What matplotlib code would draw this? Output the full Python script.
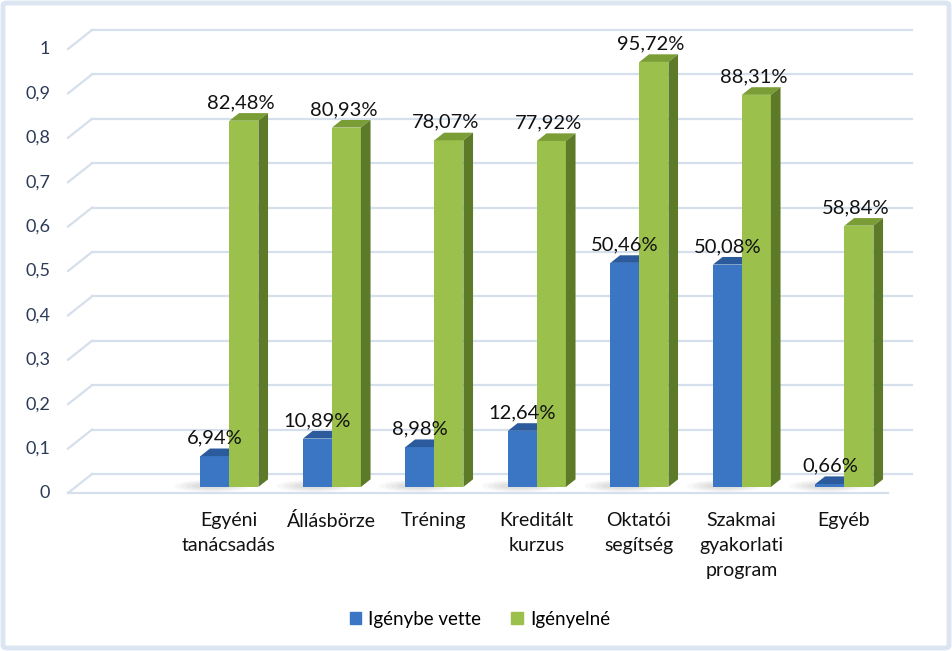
import matplotlib
matplotlib.use("Agg")
import matplotlib.pyplot as plt
from matplotlib.patches import Polygon, FancyBboxPatch, Ellipse, Patch
import numpy as np

plt.rcParams['font.family'] = ['Lato', 'DejaVu Sans']

categories = ["", "Egyéni\ntanácsadás", "Állásbörze", "Tréning", "Kreditált\nkurzus",
              "Oktatói\nsegítség", "Szakmai\ngyakorlati\nprogram", "Egyéb"]
igenybe_vette = [None, 0.0694, 0.1089, 0.0898, 0.1264, 0.5046, 0.5008, 0.0066]
igenyelne = [None, 0.8248, 0.8093, 0.7807, 0.7792, 0.9572, 0.8831, 0.5884]
blue_labels = ["", "6,94%", "10,89%", "8,98%", "12,64%", "50,46%", "50,08%", "0,66%"]
green_labels = ["", "82,48%", "80,93%", "78,07%", "77,92%", "95,72%", "88,31%", "58,84%"]
yticks = [0, 0.1, 0.2, 0.3, 0.4, 0.5, 0.6, 0.7, 0.8, 0.9, 1.0]
ytick_labels = ["0", "0,1", "0,2", "0,3", "0,4", "0,5", "0,6", "0,7", "0,8", "0,9", "1"]
series_names = ["Igénybe vette", "Igényelné"]

W, H = 952, 651
fig = plt.figure(figsize=(W / 100, H / 100), dpi=100)
ax = fig.add_axes([0, 0, 1, 1])
# pixel mapping: px = 68 + 102.5*(x+0.5), py = 493 - 444*v
SX, X0 = 102.5, 68
SY, Y0 = 444.0, 493
ax.set_xlim((0 - X0) / SX - 0.5, (W - X0) / SX - 0.5)
ax.set_ylim((Y0 - H) / SY, Y0 / SY)
ax.axis('off')

DX = 24 / SX
DY = 19 / SY
f0, f1 = 0.32, 0.72
d, dd = (f1 - f0) * DX, (f1 - f0) * DY
bw = 29 / SX
ncat = len(categories)
grid_c = '#D6DFEC'

# back wall gridlines and left diagonal
for v in yticks:
    ax.plot([-0.5 + DX, ncat - 0.5 + DX], [v + DY, v + DY], color=grid_c, lw=1.6, zorder=1)
    ax.plot([-0.5, -0.5 + DX], [v, v + DY], color=grid_c, lw=1.6, zorder=1)
ax.plot([-0.5, ncat - 0.5], [0, 0], color=grid_c, lw=1.6, zorder=1)

for v, lab in zip(yticks, ytick_labels):
    ax.text((50 - X0) / SX - 0.5, v, lab, ha='right', va='center', fontsize=13,
            color='#2B3A57', zorder=5)

blue_front, blue_top = '#3A76C4', '#2B5B9C'
green_front, green_top, green_side = '#9BC04B', '#7A9D35', '#5D7A28'

for i in range(1, ncat):
    c = i + f0 * DX
    base = f0 * DY
    vb, vg = igenybe_vette[i], igenyelne[i]
    # shadow
    for k, a in enumerate([0.05, 0.06, 0.07, 0.08]):
        ax.add_patch(Ellipse((c - bw * 0.6, base + 0.002), width=bw * (2.6 - 0.4 * k),
                             height=0.028 - 0.005 * k, color='#808080', alpha=a, lw=0, zorder=2))
    # blue bar
    ax.bar(c - bw / 2, vb, width=bw, bottom=base, color=blue_front, lw=0, zorder=3)
    x0, x1, yt = c - bw, c, base + vb
    ax.add_patch(Polygon([(x0, yt), (x1, yt), (x1 + d, yt + dd), (x0 + d, yt + dd)],
                         closed=True, color=blue_top, lw=0, zorder=3))
    # green bar
    ax.bar(c + bw / 2, vg, width=bw, bottom=base, color=green_front, lw=0, zorder=4)
    x0, x1, yt = c, c + bw, base + vg
    ax.add_patch(Polygon([(x0, yt), (x1, yt), (x1 + d, yt + dd), (x0 + d, yt + dd)],
                         closed=True, color=green_top, lw=0, zorder=4))
    ax.add_patch(Polygon([(x1, base), (x1, yt), (x1 + d, yt + dd), (x1 + d, base + dd)],
                         closed=True, color=green_side, lw=0, zorder=4))
    # labels
    ax.text(c - bw / 2, base + vb + dd + 2 / SY, blue_labels[i], ha='center', va='bottom',
            fontsize=14.5, color='#111111', zorder=6)
    ax.text(c + bw / 2 - 0.03, base + vg + dd + 2 / SY, green_labels[i], ha='center', va='bottom',
            fontsize=14.5, color='#111111', zorder=6)
    ax.text(i + 0.07, (Y0 - 512) / SY, categories[i], ha='center', va='top', fontsize=14,
            color='#111111', linespacing=1.56, zorder=6)

handles = [Patch(color=blue_front, label=series_names[0]),
           Patch(color=green_front, label=series_names[1])]
fig.legend(handles=handles, loc='center', bbox_to_anchor=(480 / W, 1 - 619 / H), ncol=2,
           frameon=False, fontsize=13.5, handlelength=0.6, handleheight=0.6, handletextpad=0.4,
           columnspacing=1.6)

fig.patches.append(FancyBboxPatch((3 / W, 3 / H), 1 - 6 / W, 1 - 6 / H,
                                  boxstyle='round,pad=0,rounding_size=0.004',
                                  transform=fig.transFigure, fill=False,
                                  edgecolor='#DCE6F2', lw=3.5))

fig.savefig('out.png', dpi=100)
